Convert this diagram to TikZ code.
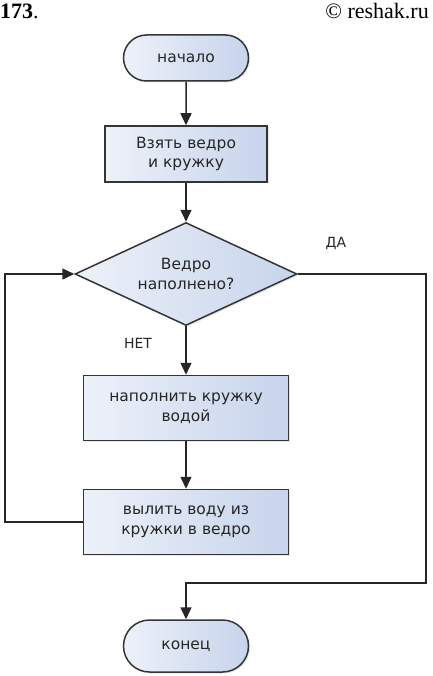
\documentclass[tikz,border=0pt]{standalone}
\usepackage{fontspec}
\newfontfamily\flowfont{DejaVu Sans}
\newfontfamily\headfont{Liberation Serif}
\usetikzlibrary{shapes.geometric,shapes.misc,arrows.meta,shadows}

\definecolor{boxleft}{HTML}{EDF1F9}
\definecolor{boxright}{HTML}{C7D4EC}
\definecolor{boxline}{HTML}{353535}
\definecolor{boxtext}{HTML}{262626}

\tikzset{
    shape base/.style={draw=boxline, line width=1.5pt, left color=boxleft, right color=boxright,
        drop shadow={opacity=0.2, shadow xshift=1.5pt, shadow yshift=-1.5pt},
        text=boxtext, font=\flowfont\fontsize{15.5}{19.5}\selectfont, align=center, inner sep=0pt},
    term/.style={shape base, rounded rectangle, minimum width=125pt, minimum height=46pt},
    block/.style={shape base, rectangle, minimum width=205pt, minimum height=65pt},
    decision/.style={shape base, diamond, aspect=2.1, minimum width=222pt, minimum height=103pt},
    flow/.style={line width=1.5pt, black!85, -{Triangle[length=12pt, width=11pt]}},
    answer/.style={text=boxtext, font=\flowfont\fontsize{14}{17}\selectfont},
}

\begin{document}
\begin{tikzpicture}[x=1pt, y=-1pt]
    
    \useasboundingbox (0,0) rectangle (432,676);
    
    % header
    \node[anchor=west, inner sep=0pt, font=\headfont\fontsize{22}{26}\selectfont] (num) at (0,11) {\textbf{173}.};
    \node[anchor=east, inner sep=0pt, font=\headfont\fontsize{22}{26}\selectfont] (site) at (429,11) {© reshak.ru};
    
    % shapes
    \node[term] (start) at (186,58) {начало};
    \node[block, minimum width=162pt, minimum height=56pt] (take) at (186,154) {Взять ведро\\и кружку};
    \node[decision] (full) at (186,274) {Ведро\\наполнено?};
    \node[block] (fill) at (186,408) {наполнить кружку\\водой};
    \node[block] (pour) at (186,522) {вылить воду из\\кружки в ведро};
    \node[term, minimum height=52pt] (stop) at (186,646) {конец};
    
    \node[answer] (yes) at (336,243) {ДА};
    \node[answer] (no) at (138,343) {НЕТ};
    
    \coordinate (loop) at (5,522);
    \coordinate (exit) at (426,583);
    
    % connectors
    \draw[flow] (start) -- (take);
    \draw[flow] (take) -- (full);
    \draw[flow] (full) -- (fill);
    \draw[flow] (fill) -- (pour);
    \draw[flow] (pour.west) -- (loop) |- (full.west);
    \draw[flow] (full.east) -| (exit) -| (stop.north);
    
\end{tikzpicture}
\end{document}
